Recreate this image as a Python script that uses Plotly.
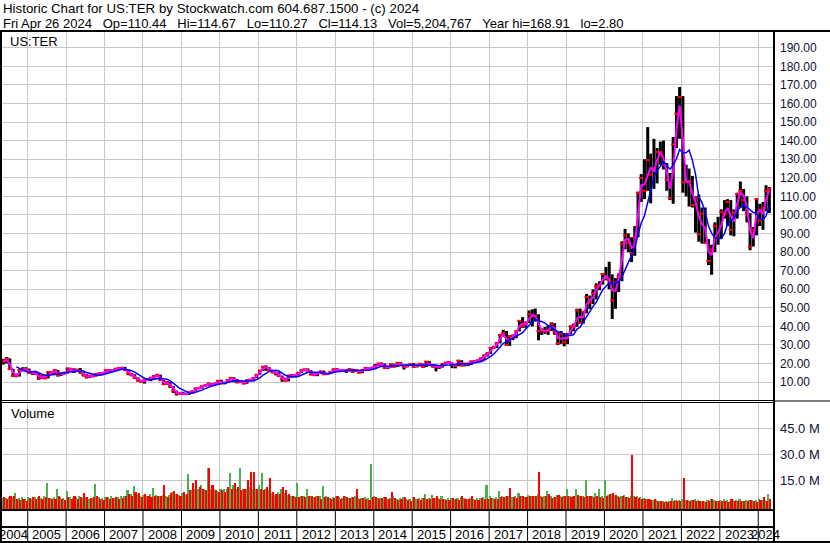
import pandas as pd
import plotly.graph_objects as go

FONT = "Liberation Sans, Arial, sans-serif"
GRID = "#c8c8c8"
GREEN = "#4caf50"
RED = "#ff0000"
TICK_COLOR = "#101030"

TITLE = "Historic Chart for US:TER by Stockwatch.com 604.687.1500 - (c) 2024"
QUOTE = ["Fri Apr 26 2024", "Op=110.44", "Hi=114.67", "Lo=110.27", "Cl=114.13",
         "Vol=5,204,767", "Year hi=168.91", "lo=2.80"]
SYMBOL = "US:TER"
FIRST_MONTH = "2004-04-01"
YEARS = list(range(2004, 2025))
VOL_TICKS = [15, 30, 45]
VOL_TICK_TEXT = ["15.0 M", "30.0 M", "45.0 M"]

# monthly bars, Apr 2004 .. Apr 2024
close = [
    21.6, 21.0, 22.7, 17.0, 13.4, 13.4, 16.5, 16.8, 17.1,
    15.0, 14.9, 14.6, 11.9, 13.5, 12.0, 15.5, 15.0, 16.5, 13.6, 14.6, 14.6,
    17.3, 17.0, 15.5, 16.6, 15.6, 13.9, 12.6, 13.5, 13.2, 14.4, 14.8, 14.9,
    16.5, 16.3, 16.5, 17.2, 17.5, 17.6, 16.4, 14.5, 13.8, 12.2, 10.8, 10.3,
    11.0, 11.3, 12.3, 13.2, 13.9, 11.1, 8.9, 10.0, 7.8, 5.4, 3.7, 4.2,
    3.6, 3.5, 4.4, 5.0, 6.6, 6.9, 7.8, 8.3, 9.3, 8.3, 9.2, 10.7,
    9.3, 9.7, 11.2, 12.2, 11.2, 9.8, 10.3, 9.2, 11.1, 11.2, 12.2, 14.0,
    16.2, 18.3, 17.8, 16.2, 15.3, 14.8, 13.3, 11.6, 10.8, 13.4, 13.7, 13.6,
    15.0, 16.4, 16.9, 16.2, 14.0, 14.1, 14.7, 15.8, 14.2, 14.4, 15.5, 16.9,
    16.7, 16.2, 16.2, 16.1, 16.9, 15.7, 16.5, 15.0, 16.5, 17.6, 17.3, 17.6,
    18.8, 19.8, 19.9, 17.8, 17.9, 19.6, 18.3, 20.4, 19.4, 18.0, 19.1, 19.8,
    18.2, 19.3, 19.9, 18.1, 21.0, 19.3, 18.6, 18.1, 18.0, 19.6, 20.3, 20.7,
    19.4, 18.7, 21.6, 18.9, 20.0, 19.7, 21.2, 21.1, 21.6, 22.8, 24.1, 25.4,
    28.3, 28.9, 31.1, 35.3, 36.4, 30.0, 34.5, 35.0, 37.3, 43.0, 40.0, 41.9,
    46.6, 45.7, 45.7, 37.5, 38.1, 37.2, 38.2, 41.5, 36.8, 30.9, 35.8, 31.4,
    35.8, 40.0, 39.8, 48.6, 41.8, 47.9, 55.8, 52.8, 57.9, 61.5, 62.2, 68.2,
    66.1, 64.7, 54.0, 64.0, 67.0, 84.5, 89.0, 85.0, 79.5, 87.9, 112.0, 119.9,
    113.0, 129.5, 121.7, 125.1, 133.8, 133.9, 127.0, 118.9, 109.2, 138.0, 154.5, 163.5,
    117.5, 118.0, 118.2, 105.4, 109.0, 89.6, 100.7, 85.0, 75.2, 81.4, 94.0, 87.4,
    101.5, 100.5, 107.0, 92.0, 101.0, 111.3, 113.0, 108.0, 100.5, 83.0, 92.0, 108.5,
    97.0, 103.8, 112.8, 114.1,
]
high = [
    23.5, 22.5, 23.5, 22.8, 17.2, 14.6, 17.0, 18.0, 18.0,
    17.3, 15.8, 15.5, 14.8, 14.0, 14.0, 15.8, 15.9, 16.7, 16.5, 15.2, 15.6,
    17.8, 17.7, 17.4, 17.2, 17.6, 15.9, 14.3, 13.8, 14.0, 14.8, 15.2, 15.5,
    16.8, 17.0, 17.0, 17.6, 18.0, 18.3, 18.2, 16.8, 14.9, 14.2, 12.6, 11.2,
    11.3, 12.0, 12.8, 13.8, 14.4, 14.0, 11.3, 10.6, 10.3, 7.8, 5.4, 4.6,
    4.8, 4.3, 4.9, 5.5, 7.0, 7.3, 8.0, 8.8, 9.6, 9.5, 9.7, 10.9,
    11.3, 10.0, 11.4, 12.8, 12.6, 11.6, 10.9, 10.5, 11.3, 11.8, 12.6, 14.3,
    16.6, 18.6, 19.0, 18.0, 16.4, 15.6, 15.3, 13.5, 12.4, 14.0, 14.4, 14.2,
    15.3, 16.8, 17.1, 17.4, 16.4, 14.6, 15.2, 16.0, 16.2, 15.0, 15.8, 17.2,
    17.5, 17.0, 16.6, 16.8, 17.4, 17.2, 16.9, 16.7, 17.0, 18.0, 17.8, 18.2,
    19.8, 20.5, 20.6, 20.0, 18.3, 20.1, 19.9, 20.6, 20.7, 19.5, 19.7, 20.3,
    20.2, 19.8, 20.2, 20.0, 21.4, 21.3, 19.5, 19.0, 19.2, 20.2, 21.0, 21.3,
    20.6, 19.8, 21.8, 21.8, 20.3, 20.5, 21.4, 21.8, 22.2, 23.3, 24.9, 26.0,
    28.8, 29.6, 31.3, 35.8, 38.2, 37.5, 35.2, 35.6, 37.7, 43.4, 45.0, 42.6,
    48.6, 49.2, 49.6, 46.5, 38.9, 39.7, 40.7, 42.2, 41.8, 37.1, 37.5, 36.3,
    36.5, 40.6, 41.5, 49.5, 49.6, 48.3, 57.5, 56.6, 59.9, 63.2, 64.3, 68.7,
    72.0, 74.8, 68.0, 66.0, 68.5, 85.8, 92.5, 90.0, 88.0, 94.0, 112.5, 122.0,
    130.0, 147.3, 133.0, 141.0, 136.0, 139.5, 140.0, 128.0, 122.6, 142.0, 164.0, 168.9,
    164.0, 127.0, 125.0, 121.0, 110.0, 111.0, 104.0, 104.0, 87.0, 84.0, 96.0, 99.0,
    103.0, 108.0, 108.5, 108.0, 103.0, 112.0, 118.0, 114.0, 110.0, 101.0, 93.5, 109.0,
    106.0, 107.0, 116.0, 115.0,
]
low = [
    20.8, 19.5, 20.0, 16.5, 12.8, 12.6, 13.0, 15.8, 16.0,
    14.5, 13.9, 14.0, 11.2, 11.8, 11.8, 12.0, 14.2, 14.4, 13.0, 13.3, 14.3,
    14.6, 16.2, 15.3, 15.5, 14.5, 13.0, 12.0, 12.3, 12.6, 13.0, 14.1, 14.5,
    14.7, 15.6, 15.3, 16.0, 16.8, 16.8, 16.0, 13.7, 13.1, 11.9, 10.3, 9.8,
    9.2, 10.6, 10.5, 11.8, 12.6, 10.8, 8.6, 8.6, 6.8, 4.2, 2.8, 3.2,
    3.4, 3.2, 3.1, 4.2, 5.0, 6.1, 6.5, 7.6, 8.0, 8.1, 8.3, 9.1,
    9.2, 8.8, 9.6, 10.9, 9.9, 9.6, 9.5, 8.9, 9.1, 10.5, 11.0, 12.1,
    14.0, 16.0, 16.1, 15.8, 14.8, 13.6, 12.8, 10.2, 10.4, 10.4, 12.4, 12.8,
    13.5, 14.8, 15.8, 15.9, 13.8, 13.2, 13.2, 14.4, 14.0, 13.9, 14.3, 15.4,
    16.3, 15.6, 15.5, 14.9, 15.7, 15.0, 15.5, 14.9, 14.8, 16.3, 16.8, 17.0,
    17.5, 18.5, 19.0, 17.2, 17.0, 17.8, 18.0, 18.2, 19.2, 16.8, 17.9, 18.7,
    17.8, 17.9, 18.5, 17.9, 18.1, 19.1, 17.8, 15.8, 17.1, 17.8, 19.3, 19.8,
    17.5, 17.4, 18.6, 18.5, 18.5, 18.6, 19.2, 20.5, 20.8, 20.7, 21.9, 23.8,
    25.2, 27.8, 28.4, 30.8, 34.5, 29.8, 29.5, 32.6, 33.6, 37.3, 39.2, 39.2,
    41.8, 40.0, 42.6, 32.5, 35.4, 36.0, 35.4, 37.6, 35.5, 30.0, 30.6, 29.3,
    30.5, 35.7, 37.4, 39.8, 41.5, 41.5, 47.0, 49.3, 52.0, 54.5, 59.5, 62.5,
    64.8, 60.0, 44.0, 49.5, 58.5, 64.3, 81.5, 80.0, 74.6, 78.0, 88.0, 107.0,
    108.5, 113.0, 106.3, 114.0, 117.0, 127.0, 124.5, 113.0, 108.0, 106.0, 136.0, 141.0,
    112.0, 110.0, 104.5, 104.0, 90.5, 85.6, 84.6, 84.5, 73.0, 67.8, 80.0, 84.0,
    87.0, 98.0, 94.0, 89.0, 88.5, 98.0, 104.0, 102.0, 96.0, 81.0, 83.0, 89.0,
    94.0, 92.0, 102.0, 101.0,
]
# volume in millions: tallest up-day bar and tallest down-day bar per month
vol_up = [
    5, 4.5, 4.5, 5, 5, 7.6, 4.5, 5, 4,
    5, 4, 5, 5, 4.5, 5.5, 13.4, 4.5, 5, 10, 5, 4.5,
    8.8, 5, 4.5, 5, 6, 4.5, 5, 4, 4.5, 12.7, 5, 4.5,
    5, 5, 5.5, 4.5, 5, 5.5, 6, 9, 7, 11.5, 7, 5.5,
    6.5, 5.5, 7, 10.5, 6.5, 6, 6.5, 5.5, 6.5, 8, 7, 6.5,
    7.5, 6.5, 18.5, 9, 10, 9.5, 12, 10, 21.8, 10, 9.5, 8.5,
    10, 9.5, 10, 19.3, 12, 10, 21.8, 9.5, 10, 11, 10, 9.5,
    12, 19.3, 10, 9, 7.5, 6.5, 8, 10, 7.5, 6.5, 5.5, 5.5,
    13.4, 6, 5.5, 10, 5.5, 5, 6, 5.5, 11.5, 5.5, 4.5, 5,
    5.5, 5, 4.5, 6, 4.5, 5, 5.5, 4.5, 4.5, 5, 4.5, 24.3,
    5.5, 4.5, 4.5, 5, 4, 4.5, 5.5, 4, 4.5, 5, 4, 4,
    5, 4, 4.5, 4.5, 6.9, 4.5, 6.3, 4.5, 4.5, 6, 4, 4.5,
    4.5, 4, 4.5, 5, 4.5, 4, 4.5, 4, 4.5, 4.5, 5, 12.1,
    5.5, 4.5, 5, 8.8, 5.5, 6, 5.5, 5, 5.5, 7.6, 5.5, 5,
    6.5, 6, 5.5, 7, 5.5, 5.5, 8.8, 5.5, 5, 6.5, 6, 5.5,
    9.6, 5.5, 5.5, 9.6, 6, 5.5, 15, 6, 5.5, 7.6, 10, 5.5,
    15, 6.5, 7, 6.5, 5.5, 5.5, 6.5, 5, 5.5, 5.5, 5.5, 5,
    4.5, 4, 4, 3.5, 3.5, 3, 3, 3, 3, 4.7, 3.5, 3.5,
    4, 3.5, 3.5, 3.5, 4, 3.5, 3, 3, 3.5, 4, 3.5, 3,
    3.5, 4, 3.5, 3, 3.5, 3.5, 4, 3, 3.5, 3.5, 3.5, 3.5,
    4, 3.5, 3.5, 6.9,
]
vol_down = [
    8.2, 5, 4, 6, 5.5, 4, 3.5, 4, 3,
    4.5, 5, 4, 5.5, 4, 5, 4.5, 4, 4, 6, 4, 3.5,
    5, 4, 5.5, 4, 5, 7.3, 5, 4.5, 5, 5.5, 4, 3.5,
    5, 4, 4.5, 5, 4, 4.5, 6, 7, 5.5, 8, 7.5, 5,
    7, 5.5, 5, 6, 5.5, 6, 12, 5, 7.5, 8.5, 7, 6,
    8, 7, 9, 13, 15, 11, 10, 9, 21.8, 12, 9, 8,
    9, 8, 11, 10, 13, 11, 9, 10, 15, 19.8, 19.8, 10,
    10, 9, 11, 16, 8, 7, 7, 11, 9, 7, 6, 5,
    5, 5.5, 5, 6, 6, 5, 5.5, 4, 5, 5, 4, 4.5,
    5.5, 4, 6, 5, 4.5, 5, 9.6, 4, 4.5, 4, 3.5, 5,
    5, 4, 4.5, 5, 4, 8.2, 4.5, 3.5, 4, 5, 3.5, 3,
    5, 4, 3.5, 4.5, 4, 4, 4.5, 5.5, 4, 4, 3.5, 3.5,
    4.5, 4, 3.5, 5.5, 4, 4, 5.7, 3.5, 3.5, 4.5, 4, 4,
    4.5, 4, 4, 5, 5, 6, 10.5, 5, 4.5, 5.5, 6, 5,
    6, 6, 5.5, 19.8, 5, 5.5, 7, 4.5, 5, 6.5, 5, 6,
    6, 5, 5.5, 6.5, 6, 5, 6, 5.5, 5, 6, 5, 4.5,
    6, 7, 7.5, 6.5, 5, 5.5, 5, 4.5, 29.5, 5, 4.5, 4,
    4, 4, 3.5, 4, 3, 3, 2.5, 2.5, 3, 3, 3, 3,
    16.3, 3.5, 3, 3.5, 3, 3, 3, 2.5, 3, 4, 3, 3,
    3, 3, 2.5, 4, 3, 3, 3, 3, 3, 3.5, 3, 2.5,
    3.5, 5.3, 3, 4,
]

X_RANGE = ["2004-04-13", "2024-05-20"]
PRICE_RANGE = [0.37, 198.5]
VOL_RANGE = [-1.83, 59.7]

# page geometry (pixels) -> paper coordinates
W, H = 830, 543
ML, MR, MT, MB = 0, 57, 32, 34
PW, PH = W - ML - MR, H - MT - MB


def px(x):
    return (x - ML) / PW


def py(y):
    return (H - MB - y) / PH


months = pd.date_range(FIRST_MONTH, periods=len(close), freq="MS")
mid = months + pd.Timedelta(days=14)
closes = pd.Series(close, index=mid)
ma_fast = closes.rolling(2).mean()
ma_slow = closes.rolling(6).mean()

seg_x, seg_y = [], []
for d, h, l in zip(mid, high, low):
    seg_x += [d, d, None]
    seg_y += [l, h, None]

HALF_MONTH = 15.5 * 24 * 3600 * 1000

fig = go.Figure()

fig.add_trace(go.Scatter(x=seg_x, y=seg_y, mode="lines",
                         line=dict(color="black", width=3), hoverinfo="skip"))
fig.add_trace(go.Scatter(x=mid, y=close, mode="markers",
                         marker=dict(symbol="line-ew", size=3,
                                     line=dict(color=RED, width=2))))
fig.add_trace(go.Scatter(x=mid, y=ma_fast, mode="lines",
                         line=dict(color="#ff00ff", width=2)))
fig.add_trace(go.Scatter(x=mid, y=ma_slow, mode="lines",
                         line=dict(color="#0000ff", width=1.5)))

fig.add_trace(go.Bar(x=months, y=[v - VOL_RANGE[0] for v in vol_up],
                     base=VOL_RANGE[0], offset=0, width=HALF_MONTH,
                     marker=dict(color=GREEN, line=dict(width=0)),
                     xaxis="x2", yaxis="y2"))
fig.add_trace(go.Bar(x=months, y=[v - VOL_RANGE[0] for v in vol_down],
                     base=VOL_RANGE[0], offset=HALF_MONTH, width=HALF_MONTH,
                     marker=dict(color=RED, line=dict(width=0)),
                     xaxis="x2", yaxis="y2"))


def hline(y, x0, x1, w):
    return dict(type="line", xref="paper", yref="paper", x0=px(x0), x1=px(x1),
                y0=py(y), y1=py(y), line=dict(color="black", width=w))


def vline(x, y0, y1, w):
    return dict(type="line", xref="paper", yref="paper", x0=px(x), x1=px(x),
                y0=py(y0), y1=py(y1), line=dict(color="black", width=w))


shapes = [
    hline(31, 0, 830, 2),
    vline(1, 31, 543, 2),
    vline(774, 31, 543, 2),
    hline(400.5, 0, 773, 1),
    hline(402.5, 0, 773, 1),
    hline(401, 774, 830, 1),
    hline(510, 0, 773, 2),
    hline(527, 0, 773, 2),
    hline(542, 0, 830, 2),
]
for yr in YEARS[1:]:
    shapes.append(dict(type="line", xref="x", yref="paper",
                       x0=f"{yr}-01-01", x1=f"{yr}-01-01",
                       y0=py(510), y1=py(542),
                       line=dict(color="black", width=1)))

annotations = [
    dict(text=TITLE, x=px(1), y=py(8.7), xanchor="left", yanchor="middle",
         font=dict(size=13.3)),
    dict(text="\u00a0\u00a0\u00a0".join(QUOTE), x=px(1), y=py(23.3),
         xanchor="left", yanchor="middle", font=dict(size=13)),
    dict(text=SYMBOL, x=px(8), y=py(41.7), xanchor="left", yanchor="middle",
         font=dict(size=13)),
    dict(text="Volume", x=px(9), y=py(413.5), xanchor="left",
         yanchor="middle", font=dict(size=13)),
]
x_lo, x_hi = pd.Timestamp(X_RANGE[0]), pd.Timestamp(X_RANGE[1])
for yr in YEARS:
    a = max(pd.Timestamp(f"{yr}-01-01"), x_lo)
    b = min(pd.Timestamp(f"{yr + 1}-01-01"), x_hi)
    annotations.append(dict(text=str(yr), x=a + (b - a) / 2, xref="x",
                            y=py(534.3), xanchor="center", yanchor="middle",
                            font=dict(size=13)))
for a in annotations:
    a.setdefault("xref", "paper")
    a["yref"] = "paper"
    a["showarrow"] = False
    a["font"].update(family=FONT, color="black")

x_common = dict(type="date", range=X_RANGE, showgrid=True, gridcolor=GRID,
                gridwidth=1, tick0="2005-01-01", dtick="M12",
                showticklabels=False, ticks="", zeroline=False, showline=False)
y_common = dict(side="right", showgrid=True, gridcolor=GRID, gridwidth=1,
                zeroline=False, showline=False, ticks="",
                ticklabelstandoff=6)

fig.update_layout(
    width=W, height=H,
    margin=dict(l=ML, r=MR, t=MT, b=MB, pad=0),
    paper_bgcolor="white", plot_bgcolor="white",
    showlegend=False, barmode="overlay", bargap=0,
    font=dict(family=FONT, color="black"),
    xaxis=dict(domain=[0, 1], anchor="y", **x_common),
    xaxis2=dict(domain=[0, 1], anchor="y2", matches="x", **x_common),
    yaxis=dict(domain=[py(400), 1], anchor="x", range=PRICE_RANGE,
               tick0=0, dtick=10, tickformat=".2f",
               tickfont=dict(family=FONT, size=12, color=TICK_COLOR),
               **y_common),
    yaxis2=dict(domain=[0, py(403)], anchor="x2", range=VOL_RANGE,
                tickvals=VOL_TICKS, ticktext=VOL_TICK_TEXT,
                tickfont=dict(family=FONT, size=13, color=TICK_COLOR),
                **y_common),
    shapes=shapes,
    annotations=annotations,
)

fig.write_html("out.html", config={"displayModeBar": False},
               post_script="document.body.style.margin='0';")
